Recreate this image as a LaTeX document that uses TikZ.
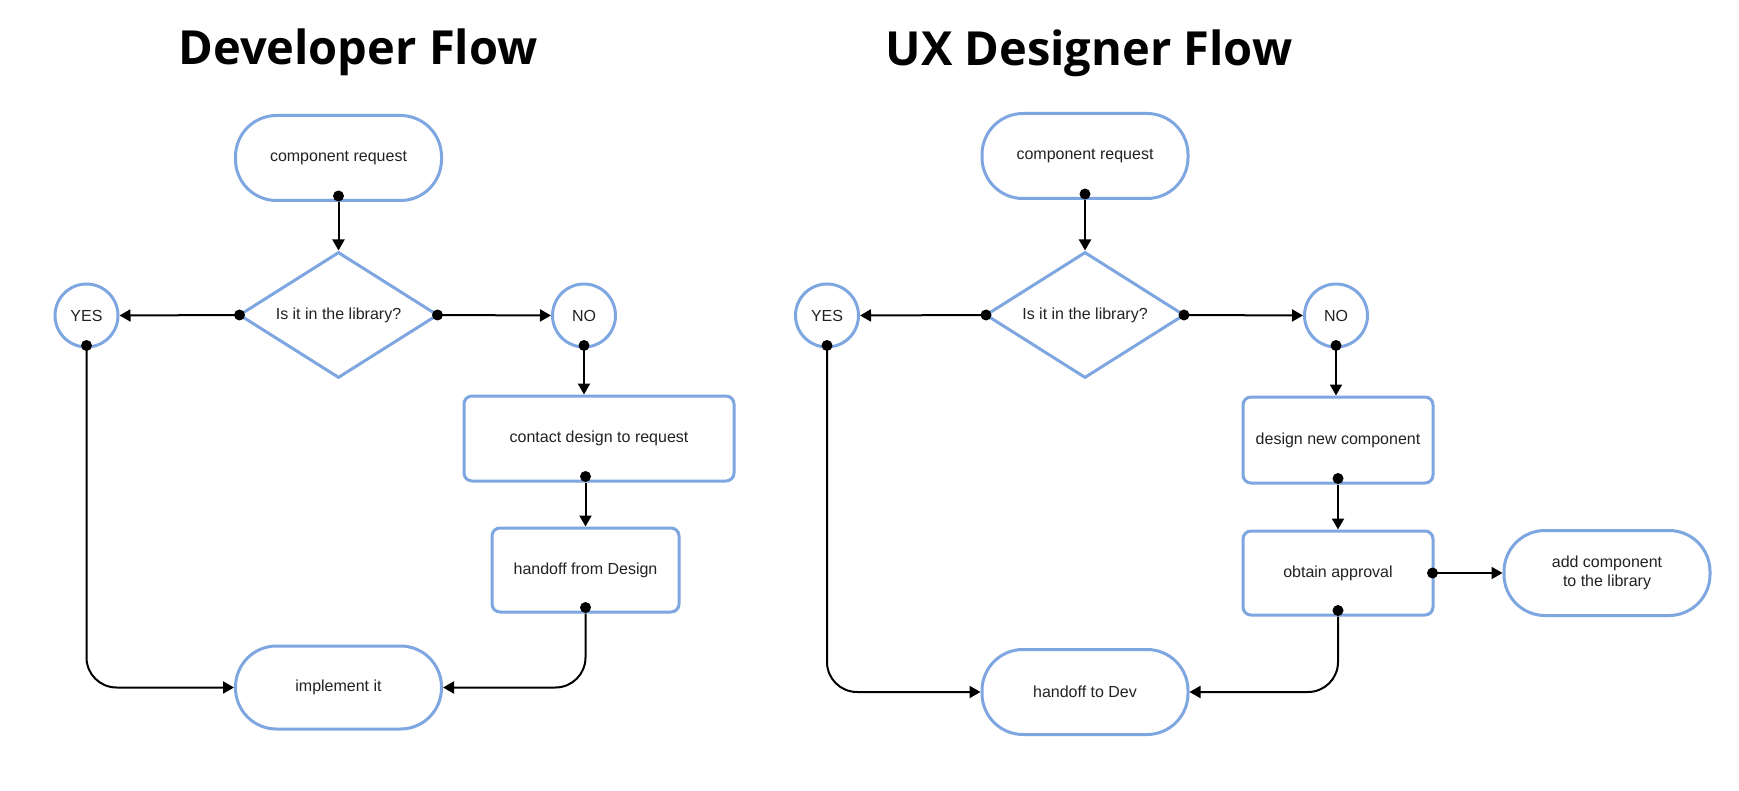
\documentclass[tikz,border=0pt]{standalone}
\usepackage{fontspec}
\setmainfont{Liberation Sans}
\newfontfamily\titlefont{Open Sans}
\usetikzlibrary{shapes.geometric,arrows.meta}
\definecolor{edgeblue}{HTML}{7EA6E0}
\definecolor{txt}{HTML}{222222}
\begin{document}
\begin{tikzpicture}[x=1pt,y=-1pt,
  base/.style={draw=edgeblue, line width=3pt, text=txt, font=\fontsize{16}{19}\selectfont, align=center, inner sep=0pt, fill=white},
  term/.style={base, rectangle, rounded corners=41pt, minimum width=206pt, minimum height=85pt},
  proc/.style={base, rectangle, rounded corners=8pt, minimum height=85pt},
  dec/.style={base, diamond, aspect=1.58, minimum width=199pt, minimum height=126pt},
  circ/.style={base, circle, minimum size=63pt},
  flow/.style={line width=2pt, -{Triangle[length=11pt,width=12pt]}},
  elbow/.style={flow, rounded corners=30pt},
  dotfill/.style={fill=black},
  title/.style={font=\titlefont\bfseries\fontsize{47}{56}\selectfont, anchor=base}
]
\useasboundingbox (0,0) rectangle (1739,791);
\fill[white] (0,0) rectangle (1739,791);

% ---------------- Developer Flow ----------------
\node[title] (t1) at (358,65) {Developer Flow};
\node[term] (cr1) at (338.5,158) {component request};
\node[dec] (d1) at (338.5,315) {Is it in the library?};
\node[circ] (yes1) at (86.5,315.5) {YES};
\node[circ] (no1) at (584,315.5) {NO};
\node[proc, minimum width=270pt] (c1) at (599,438.5) {contact design to request};
\node[proc, minimum width=187pt, minimum height=84pt] (h1) at (585.5,570) {handoff from Design};
\node[term, minimum height=83pt] (i1) at (338.5,687.5) {implement it};
\coordinate (c1b) at (h1.north |- c1.south);

\draw[flow] (cr1.south) -- (d1.north);
\draw[flow] (d1.west) -- (yes1.east);
\draw[flow] (d1.east) -- (no1.west);
\draw[flow] (no1.south) -- (no1.south |- c1.north);
\draw[flow] (c1b) -- (h1.north);
\draw[elbow] (yes1.south) |- (i1.west);
\draw[elbow] (h1.south) |- (i1.east);

\fill[dotfill] ([yshift=6pt]cr1.south) circle (5.5pt);
\fill[dotfill] ([xshift=2pt]d1.west) circle (5.5pt);
\fill[dotfill] ([xshift=-2pt]d1.east) circle (5.5pt);
\fill[dotfill] ([yshift=3pt]yes1.south) circle (5.5pt);
\fill[dotfill] ([yshift=3pt]no1.south) circle (5.5pt);
\fill[dotfill] ([yshift=6pt]c1b) circle (5.5pt);
\fill[dotfill] ([yshift=6pt]h1.south) circle (5.5pt);

% ---------------- UX Designer Flow ----------------
\node[title] (t2) at (1089,66) {UX Designer Flow};
\node[term] (cr2) at (1085,156) {component request};
\node[dec] (d2) at (1085,315) {Is it in the library?};
\node[circ] (yes2) at (827,315.5) {YES};
\node[circ] (no2) at (1336,315.5) {NO};
\node[proc, minimum width=190pt, minimum height=86pt] (dn) at (1338,440) {design new component};
\node[proc, minimum width=190pt, minimum height=84pt] (oa) at (1338,573) {obtain approval};
\node[term] (add) at (1607,573) {add component\\to the library};
\node[term] (hd) at (1085,692) {handoff to Dev};

\draw[flow] (cr2.south) -- (d2.north);
\draw[flow] (d2.west) -- (yes2.east);
\draw[flow] (d2.east) -- (no2.west);
\draw[flow] (no2.south) -- (no2.south |- dn.north);
\draw[flow] (dn.south) -- (oa.north);
\draw[flow] (oa.east) -- (add.west);
\draw[elbow] (yes2.south) |- (hd.west);
\draw[elbow] (oa.south) |- (hd.east);

\fill[dotfill] ([yshift=6pt]cr2.south) circle (5.5pt);
\fill[dotfill] ([xshift=2pt]d2.west) circle (5.5pt);
\fill[dotfill] ([xshift=-2pt]d2.east) circle (5.5pt);
\fill[dotfill] ([yshift=3pt]yes2.south) circle (5.5pt);
\fill[dotfill] ([yshift=3pt]no2.south) circle (5.5pt);
\fill[dotfill] ([yshift=6pt]dn.south) circle (5.5pt);
\fill[dotfill] ([xshift=-2pt]oa.east) circle (5.5pt);
\fill[dotfill] ([yshift=6pt]oa.south) circle (5.5pt);
\end{tikzpicture}
\end{document}
